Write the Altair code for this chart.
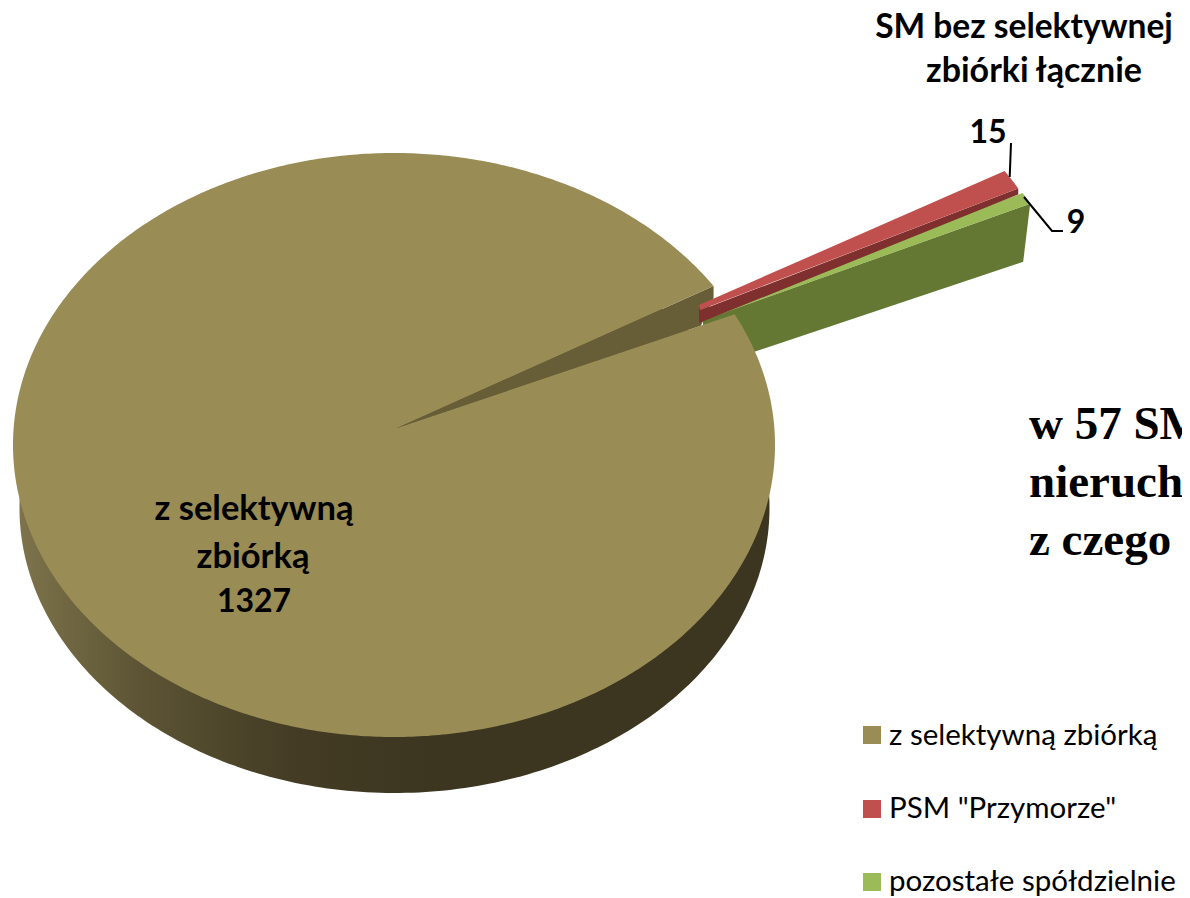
import numpy as np
import pandas as pd
import altair as alt

# ---- data
categories = ["z selektywną zbiórką", 'PSM "Przymorze"', "pozostałe spółdzielnie"]
values = [1327, 15, 9]
top_colors = ["#998c55", "#c0504d", "#9bbb59"]
side_colors = ["#675e38", "#7f302e", "#647833"]

# ---- picture geometry of the tilted pie
W, H = 1174, 890
CX, CY, RX, RY = 394, 445, 381, 292
BCX, BCY, BRX, BRY = 394.5, 508, 375, 285
APEX = (397, 428)
LAST_ANGLE = 26.6  # ellipse angle where the main slice ends

shares = [v / sum(values) * 360 for v in values]
t_green_lo = LAST_ANGLE
t_green_hi = t_green_lo + shares[2]
t_red_hi = t_green_hi + shares[1]


def P(t, cx=CX, cy=CY, rx=RX, ry=RY):
    r = np.radians(t)
    return (cx + rx * np.cos(r), cy - ry * np.sin(r))


def arc(a, b, n=240, **kw):
    return [P(t, **kw) for t in np.linspace(a, b, n)]


xs = alt.Scale(domain=[8, 8 + W], range=[0, W])
ys = alt.Scale(domain=[8, 8 + H], range=[0, H])


def poly(points, fill):
    pts = list(points) + [points[0]]
    df = pd.DataFrame({"x": [p[0] for p in pts], "y": [p[1] for p in pts], "i": range(len(pts))})
    return alt.Chart(df).mark_line(fill=fill, strokeOpacity=0, strokeWidth=0).encode(
        x=alt.X("x:Q", scale=xs, axis=None),
        y=alt.Y("y:Q", scale=ys, axis=None),
        order="i:Q",
    )


def leader(points):
    df = pd.DataFrame({"x": [p[0] for p in points], "y": [p[1] for p in points], "i": range(len(points))})
    return alt.Chart(df).mark_line(color="#000000", strokeWidth=2).encode(
        x=alt.X("x:Q", scale=xs, axis=None),
        y=alt.Y("y:Q", scale=ys, axis=None),
        order="i:Q",
    )


def label(text, x, y, size, font="Lato", weight="bold", align="center"):
    df = pd.DataFrame({"t": [text], "x": [x], "y": [y]})
    return alt.Chart(df).mark_text(
        font=font, fontSize=size, fontWeight=weight, align=align, baseline="alphabetic", color="#000000"
    ).encode(
        x=alt.X("x:Q", scale=xs, axis=None),
        y=alt.Y("y:Q", scale=ys, axis=None),
        text="t:N",
    )


side_gradient = alt.Gradient(
    gradient="linear", x1=0, x2=1, y1=0, y2=0,
    stops=[
        alt.GradientStop(color="#7d734b", offset=0.0),
        alt.GradientStop(color="#5c5434", offset=0.16),
        alt.GradientStop(color="#443c24", offset=0.36),
        alt.GradientStop(color="#3c3520", offset=0.55),
        alt.GradientStop(color="#3c3520", offset=1.0),
    ],
)

# main slice
bottom = poly(arc(0, 360, 360, cx=BCX, cy=BCY, rx=BRX, ry=BRY), side_gradient)
p_hi = P(t_red_hi)
p_lo = P(t_green_lo)
wall = poly(
    [APEX, p_hi, (p_hi[0], p_hi[1] + 12),
     (APEX[0] + 0.9 * (p_lo[0] - APEX[0]), APEX[1] + 0.9 * (p_lo[1] - APEX[1]))],
    side_colors[0],
)
main_top = poly([APEX] + arc(t_red_hi, t_green_lo + 360, 600), top_colors[0])

# red slice, pulled out
RED_OFF = (291, -115)
red_arc = [(x + RED_OFF[0], y + RED_OFF[1]) for x, y in arc(t_green_hi, t_red_hi, 12)]
red_apex = (699, 305)
red_end = red_arc[0]
red_side = poly([red_apex, (701, 310), red_end, (red_end[0], red_end[1] + 6), (699, 323)], side_colors[1])
red_top = poly([(700, 310), red_apex] + red_arc[::-1], top_colors[1])

# green slice, pulled out
GREEN_OFF = (295.5, -110.5)
green_arc = [(x + GREEN_OFF[0], y + GREEN_OFF[1]) for x, y in arc(t_green_lo, t_green_hi, 12)]
green_apex = (703, 312)
green_end = green_arc[0]
green_side = poly(
    [(703, 320), green_end, (green_end[0] - 7, green_end[1] + 58), (703, 369)], side_colors[2]
)
green_top = poly([green_apex] + green_arc[::-1] + [(704, 320)], top_colors[2])

# leaders
lead_red = leader([(1011, 143), (1009.7, 177)])
lead_green = leader([(1024, 197), (1052, 231), (1063, 231)])

# legend squares
legend_y = [735, 809, 882]
legend_text_y = [745, 818, 891]
sq = alt.Chart(pd.DataFrame({"x": [872] * 3, "y": legend_y, "c": categories})).mark_square(size=324, opacity=1).encode(
    x=alt.X("x:Q", scale=xs, axis=None),
    y=alt.Y("y:Q", scale=ys, axis=None),
    color=alt.Color("c:N", scale=alt.Scale(domain=categories, range=top_colors), legend=None),
)

texts = [
    label("SM bez selektywnej", 1024, 38, 33.5),
    label("zbiórki łącznie", 1034, 82, 34),
    label("15", 988, 143, 32),
    label("9", 1076, 233, 32),
    label("z selektywną", 254, 520, 34.5),
    label("zbiórką", 253, 568, 34.5),
    label(str(values[0]), 254, 612, 32),
    label("w 57 SM", 1029, 439, 47, font="Liberation Serif", align="left"),
    label("nieruch", 1029, 497, 47, font="Liberation Serif", align="left"),
    label("z czego", 1029, 555, 47, font="Liberation Serif", align="left"),
] + [
    label(c, 889, y, 29.5, weight="normal", align="left") for c, y in zip(categories, legend_text_y)
]

chart = alt.layer(
    bottom, wall, green_side, green_top, red_side, red_top, main_top,
    lead_red, lead_green, sq, *texts
).properties(
    width=W, height=H, padding=0, autosize=alt.AutoSizeParams(type="none")
).configure_view(stroke=None)

chart.save("out.html", embed_options={"renderer": "svg", "actions": False})
